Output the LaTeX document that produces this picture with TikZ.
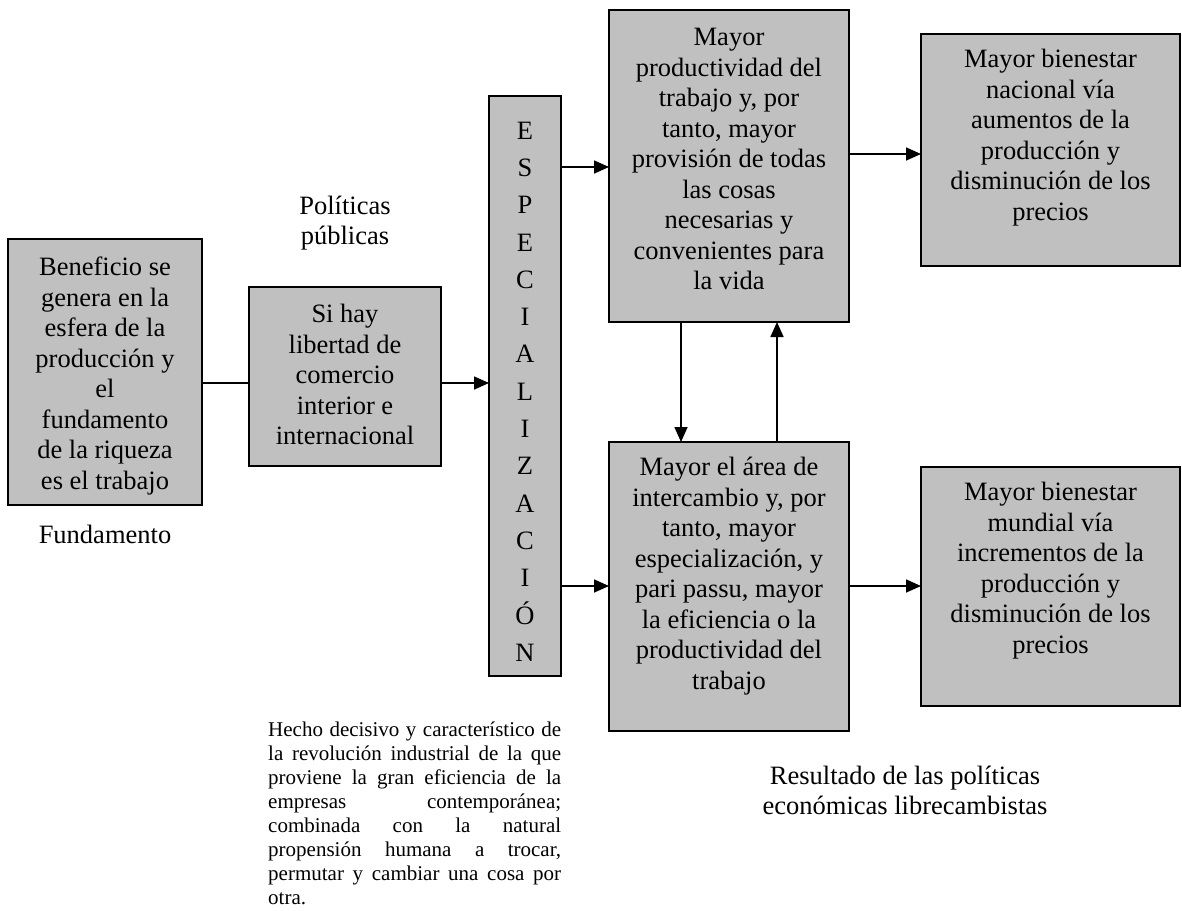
\documentclass[tikz,border=0pt]{standalone}
\usepackage{fontspec}
\setmainfont{Liberation Serif}
\usetikzlibrary{arrows.meta}
\definecolor{panelgray}{HTML}{C0C0C0}
% top-aligned, centred text block of fixed size: width, height, top gap, lines
\newcommand{\boxfill}[4]{\parbox[c][#2][t]{#1}{\centering\vspace*{#3}\strut #4}}
\tikzset{
  panel/.style={draw=black, fill=panelgray, line width=2pt, inner sep=0pt,
    outer sep=0pt, anchor=north west, font=\fontsize{26.5}{30.5}\selectfont},
  plainlink/.style={line width=1.6pt},
  arrowlink/.style={line width=1.6pt, -{Triangle[length=15pt,width=13pt]}},
  caption/.style={align=center, inner sep=0pt, anchor=north,
    font=\fontsize{26.5}{30.5}\selectfont},
}
\begin{document}
\begin{tikzpicture}[x=1pt,y=-1pt]
\useasboundingbox (0,0) rectangle (1182,910);

% boxes
\node[panel] (found) at (8,239)
  {\boxfill{194pt}{266pt}{15.6pt}{Beneficio se\\genera en la\\esfera de la\\producción y\\el\\fundamento\\de la riqueza\\es el trabajo}};
\node[panel] (trade) at (249,287)
  {\boxfill{192pt}{179pt}{14.6pt}{Si hay\\libertad de\\comercio\\interior e\\internacional}};
\node[panel, font=\fontsize{26.5}{37.3}\selectfont] (spec) at (489,96)
  {\boxfill{72pt}{580pt}{17pt}{E\\S\\P\\E\\C\\I\\A\\L\\I\\Z\\A\\C\\I\\Ó\\N}};
\node[panel] (prod) at (609,10)
  {\boxfill{240pt}{312pt}{14.6pt}{Mayor\\productividad del\\trabajo y, por\\tanto, mayor\\provisión de todas\\las cosas\\necesarias y\\convenientes para\\la vida}};
\node[panel] (area) at (609,442)
  {\boxfill{240pt}{289pt}{12.6pt}{Mayor el área de\\intercambio y, por\\tanto, mayor\\especialización, y\\pari passu, mayor\\la eficiencia o la\\productividad del\\trabajo}};
\node[panel] (natl) at (921,34)
  {\boxfill{259pt}{232pt}{12.6pt}{Mayor bienestar\\nacional vía\\aumentos de la\\producción y\\disminución de los\\precios}};
\node[panel] (world) at (921,467)
  {\boxfill{259pt}{239pt}{12.6pt}{Mayor bienestar\\mundial vía\\incrementos de la\\producción y\\disminución de los\\precios}};

% free captions
\node[caption] (policy) at (345,192.6) {\strut Políticas\\públicas};
\node[caption] (basis) at (105,521.6) {\strut Fundamento};
\node[caption] (result) at (905,762.6) {\strut Resultado de las políticas\\económicas librecambistas};
\node[inner sep=0pt, anchor=north west, text width=293pt, align=justify,
      font=\fontsize{21}{24}\selectfont] (note) at (268,719)
  {\tolerance=10000\strut Hecho decisivo y característico de\linebreak
   la revolución industrial de la que\linebreak
   proviene la gran eficiencia de la\linebreak
   empresas contemporánea;\linebreak
   combinada con la natural\linebreak
   propensión humana a trocar,\linebreak
   permutar y cambiar una cosa por\linebreak
   otra.};

% connector levels
\coordinate (rowA) at (0,383);
\coordinate (rowB) at (0,167);
\coordinate (rowC) at (0,586);
\coordinate (rowD) at (0,154);
\coordinate (colA) at (681,0);
\coordinate (colB) at (777,0);

% connectors
\draw[plainlink] (found.east |- rowA) -- (trade.west |- rowA);
\draw[arrowlink] (trade.east |- rowA) -- (spec.west |- rowA);
\draw[arrowlink] (spec.east |- rowB) -- (prod.west |- rowB);
\draw[arrowlink] (spec.east |- rowC) -- (area.west |- rowC);
\draw[arrowlink] (prod.east |- rowD) -- (natl.west |- rowD);
\draw[arrowlink] (area.east |- rowC) -- (world.west |- rowC);
\draw[arrowlink] (prod.south -| colA) -- (area.north -| colA);
\draw[arrowlink] (area.north -| colB) -- (prod.south -| colB);
\end{tikzpicture}
\end{document}
